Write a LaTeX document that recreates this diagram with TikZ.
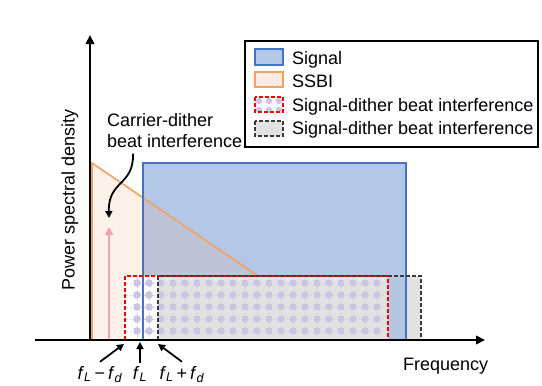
\documentclass[tikz,border=0pt]{standalone}
\usepackage{fontspec}
\setmainfont{Liberation Sans}
\usepackage{xcolor}
\usepackage{tikz}
\usetikzlibrary{arrows.meta}

\definecolor{sigblue}{HTML}{4472C4}
\definecolor{sigfill}{HTML}{B4C7E7}
\definecolor{ssbiline}{HTML}{F4A15D}
\definecolor{ssbifill}{HTML}{F4B183}
\definecolor{dotlav}{HTML}{C9C5E3}
\definecolor{gridlav}{HTML}{D4D1EA}
\definecolor{carrierpink}{HTML}{F4A3AB}
\definecolor{boxgray}{HTML}{3A3A3A}
\definecolor{boxfill}{HTML}{E2E2E2}

\begin{document}
\begin{tikzpicture}[
  x=1pt,y=-1pt,
  lbl/.style={font=\fontsize{18}{21}\selectfont,inner sep=0pt},
  axis/.style={line width=2.4pt,-{Triangle[length=9pt,width=8.5pt]}},
  ptr/.style={line width=1.8pt,-{Triangle[length=7pt,width=7pt]}},
  signal/.style={draw=sigblue,line width=2.4pt},
  ssbi/.style={draw=ssbiline,line width=1.6pt},
  reddash/.style={draw=red,line width=1.5pt,dash pattern=on 4pt off 2pt},
  graydash/.style={draw=boxgray,line width=1.5pt,dash pattern=on 4pt off 2pt},
  gridln/.style={draw=gridlav,line width=0.7pt,dash pattern=on 2.5pt off 2pt},
  dot/.style={fill=dotlav}
]
\useasboundingbox (0,0) rectangle (542,386);

\fill[sigfill] (143,163) rectangle (406,340);
\fill[ssbifill,fill opacity=0.17] (92,340) -- (92,163) -- (276,288) -- (276,340) -- cycle;
\draw[ssbi] (92,340) -- (92,163) -- (258,276);

\fill[white] (125,276) rectangle (388,340);
\begin{scope}
  \clip (125,276) rectangle (388,340);
  \foreach \gy in {283,295,...,331} \draw[gridln] (125,\gy) -- (388,\gy);
  \foreach \gx in {137,149,...,377} \draw[gridln] (\gx,276) -- (\gx,340);
  \foreach \gx in {137,149,...,377}
    \foreach \gy in {283,295,...,331} \fill[dot] (\gx,\gy) circle (3.8pt);
\end{scope}
\fill[boxfill,blend mode=darken] (158,276) rectangle (421,340);

\draw[signal] (143,340) -- (143,163) -- (406,163) -- (406,340);
\draw[reddash] (125,340) -- (125,276) -- (388,276) -- (388,340);
\draw[graydash] (158,340) -- (158,276) -- (421,276) -- (421,340);

\coordinate (carrierbase) at (109,340);
\coordinate (carriertip) at (109,227);
\draw[line width=2.4pt,carrierpink,-{Triangle[length=8pt,width=8pt]}] (carrierbase) -- (carriertip);

\coordinate (origin) at (90,340);
\coordinate (ytop) at (90,35);
\coordinate (xleft) at (35,340);
\coordinate (xright) at (485,340);
\draw[axis] (origin) -- (ytop);
\draw[axis] (xleft) -- (xright);

\node[lbl,rotate=90,anchor=base] (ylabel) at (74.5,200) {Power spectral density};
\node[lbl,anchor=base west] (xlabel) at (403,370) {Frequency};

\node[lbl,align=left,anchor=north west] (carrier) at (107,113) {Carrier-dither\\beat interference};
\coordinate (carrierend) at (109,218);
\draw[ptr] ([yshift=-6pt]carrier.south west -| 133,0) .. controls (134,186) and (108,180) .. (carrierend);

\node[lbl,anchor=base] (fminus) at (100,379) {\textit{f}\textsubscript{\textit{L}}\,−\,\textit{f}\textsubscript{\textit{d}}};
\node[lbl,anchor=base] (fcenter) at (140,379) {\textit{f}\textsubscript{\textit{L}}};
\node[lbl,anchor=base] (fplus) at (182,379) {\textit{f}\textsubscript{\textit{L}}\,+\,\textit{f}\textsubscript{\textit{d}}};
\coordinate (tipminus) at (124,344);
\coordinate (tipcenter) at (140,342);
\coordinate (tipplus) at (158,344);
\draw[ptr] ([yshift=4pt]fminus.north) -- (tipminus);
\draw[ptr] ([yshift=3pt]fcenter.north) -- (tipcenter);
\draw[ptr] ([yshift=4pt]fplus.north) -- (tipplus);

\draw[line width=1.2pt] (245,41) rectangle (538,147);
\filldraw[fill=sigfill,draw=sigblue,line width=1.5pt] (255,49) rectangle (283,65);
\filldraw[fill=ssbifill!25,draw=ssbiline,line width=1.5pt] (255,72) rectangle (283,87);
\begin{scope}
  \clip (255,97) rectangle (283,112);
  \foreach \gx in {259,269,279}
    \foreach \gy in {101,110} \fill[dot] (\gx,\gy) circle (3.2pt);
\end{scope}
\draw[reddash] (255,97) rectangle (283,112);
\filldraw[fill=boxfill,graydash] (255,121) rectangle (283,136);
\node[lbl,anchor=base west] (legsignal) at (292,64) {Signal};
\node[lbl,anchor=base west] (legssbi) at (292,87) {SSBI};
\node[lbl,anchor=base west] (legred) at (292,111.5) {Signal-dither beat interference};
\node[lbl,anchor=base west] (leggray) at (292,134) {Signal-dither beat interference};
\end{tikzpicture}
\end{document}
